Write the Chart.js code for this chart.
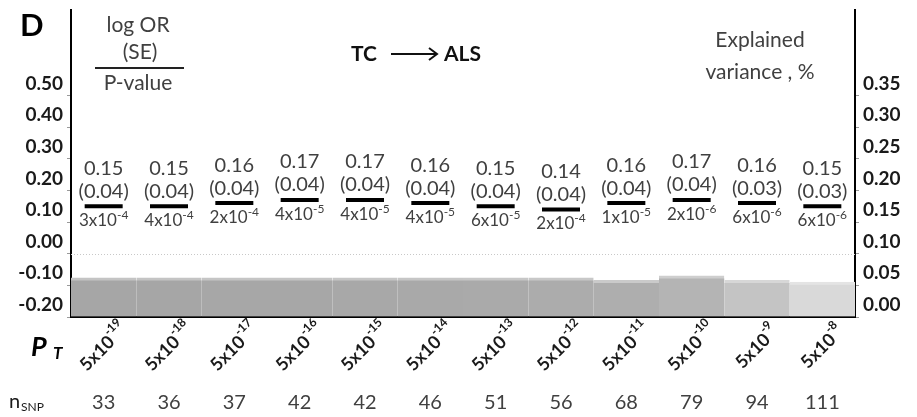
<!DOCTYPE html>
<html>
<head>
<meta charset="utf-8">
<script src="https://cdn.jsdelivr.net/npm/chart.js@4/dist/chart.umd.min.js"></script>
<style>
  html, body { margin: 0; padding: 0; background: #fff; }
  #wrap { width: 917px; height: 417px; }
</style>
</head>
<body>
<div id="wrap"><canvas id="c" width="917" height="417"></canvas></div>
<script>
// P-value thresholds (5x10^exp) used to select SNPs
const thresholdExponents = ['-19', '-18', '-17', '-16', '-15', '-14', '-13', '-12', '-11', '-10', '-9', '-8'];
// number of SNPs at each threshold
const nSnp = [33, 36, 37, 42, 42, 46, 51, 56, 68, 79, 94, 111];
// log odds ratio and its standard error
const logOR = [0.15, 0.15, 0.16, 0.17, 0.17, 0.16, 0.15, 0.14, 0.16, 0.17, 0.16, 0.15];
const logOrSE = [0.04, 0.04, 0.04, 0.04, 0.04, 0.04, 0.04, 0.04, 0.04, 0.04, 0.03, 0.03];
// association P-value as mantissa x 10^exponent
const pMantissa = [3, 4, 2, 4, 4, 4, 6, 2, 1, 2, 6, 6];
const pExponent = ['-4', '-4', '-4', '-5', '-5', '-5', '-5', '-4', '-5', '-6', '-6', '-6'];
// explained variance (%)
const explainedVariance = [0.062, 0.062, 0.062, 0.062, 0.062, 0.062, 0.062, 0.062, 0.058, 0.065, 0.058, 0.055];
// axis tick values
const leftTicks = [-0.2, -0.1, 0.0, 0.1, 0.2, 0.3, 0.4, 0.5];
const rightTicks = [0.0, 0.05, 0.10, 0.15, 0.20, 0.25, 0.30, 0.35];

const barColors = ['#a6a6a6', '#a6a6a6', '#a7a7a7', '#a7a7a7', '#a8a8a8', '#a9a9a9', '#aaaaaa', '#acacac',
                   '#aeaeae', '#b4b4b4', '#c4c4c4', '#d9d9d9'];
const barEdgeColors = ['#c4c4c4', '#c4c4c4', '#c5c5c5', '#c5c5c5', '#c6c6c6', '#c6c6c6', '#c7c7c7', '#c8c8c8',
                       '#cacaca', '#cecece', '#d7d7d7', '#e4e4e4'];

const FONT = 'Lato';
const TEXT = '#404040';

function textWithSup(ctx, base, sup, x, y, baseFont, supFont, align, supRise) {
  ctx.font = baseFont;
  const wb = ctx.measureText(base).width;
  ctx.font = supFont;
  const ws = ctx.measureText(sup).width;
  const total = wb + ws;
  let x0 = x;
  if (align === 'center') x0 = x - total / 2;
  ctx.textAlign = 'left';
  ctx.font = baseFont;
  ctx.fillText(base, x0, y);
  ctx.font = supFont;
  ctx.fillText(sup, x0 + wb, y - supRise);
}

const annotations = {
  id: 'annotations',
  beforeDatasetsDraw(chart) {
    // dotted reference line at log OR = 0
    const {ctx, chartArea, scales} = chart;
    const y0 = Math.round(scales.y.getPixelForValue(0)) + 0.5;
    ctx.save();
    ctx.strokeStyle = '#c8c8c8';
    ctx.lineWidth = 1;
    ctx.setLineDash([1, 2]);
    ctx.beginPath();
    ctx.moveTo(chartArea.left, y0);
    ctx.lineTo(chartArea.right, y0);
    ctx.stroke();
    ctx.restore();
  },
  afterDatasetsDraw(chart) {
    const {ctx} = chart;
    const meta = chart.getDatasetMeta(0);
    ctx.save();
    ctx.fillStyle = TEXT;
    ctx.textBaseline = 'middle';
    meta.data.forEach((pt, i) => {
      const x = pt.x, y = pt.y;
      ctx.textAlign = 'center';
      ctx.font = '20px ' + FONT;
      ctx.fillText(logOR[i].toFixed(2), x, y - 38);
      ctx.fillText('(' + logOrSE[i].toFixed(2) + ')', x, y - 15);
      ctx.textBaseline = 'alphabetic';
      textWithSup(ctx, pMantissa[i] + 'x10', pExponent[i], x, y + 20,
        '17px ' + FONT, '12px ' + FONT, 'center', 7);
      ctx.textBaseline = 'middle';
    });
    ctx.restore();
  },
  afterDraw(chart) {
    const {ctx, scales} = chart;
    const xs = scales.x;
    ctx.save();

    // threshold labels, rotated
    thresholdExponents.forEach((e, i) => {
      const x = xs.getPixelForValue(i);
      ctx.save();
      ctx.fillStyle = '#1a1a1a';
      ctx.translate(x, 347);
      ctx.rotate(-Math.PI / 4);
      ctx.textBaseline = 'middle';
      textWithSup(ctx, '5x10', e, 0, 0, 'bold 18px ' + FONT, 'bold 12px ' + FONT, 'center', 8);
      ctx.restore();
      // SNP counts
      ctx.textAlign = 'center';
      ctx.textBaseline = 'middle';
      ctx.fillStyle = TEXT;
      ctx.font = '20px ' + FONT;
      ctx.fillText(String(nSnp[i]), x, 403);
    });

    // row titles
    ctx.fillStyle = '#000';
    ctx.textAlign = 'left';
    ctx.textBaseline = 'alphabetic';
    ctx.font = 'italic bold 27px ' + FONT;
    ctx.fillText('P', 31, 356);
    ctx.font = 'italic bold 17px ' + FONT;
    ctx.fillText('T', 53, 359);
    ctx.fillStyle = '#1a1a1a';
    ctx.font = '20px ' + FONT;
    ctx.fillText('n', 9, 408);
    ctx.font = '12px ' + FONT;
    ctx.fillText('SNP', 21, 411);

    // panel letter
    ctx.fillStyle = '#000';
    ctx.font = 'bold 31px ' + FONT;
    ctx.fillText('D', 20, 36);

    // key for the value blocks
    ctx.fillStyle = TEXT;
    ctx.textAlign = 'center';
    ctx.textBaseline = 'middle';
    ctx.font = '21px ' + FONT;
    ctx.fillText('log OR', 138, 25);
    ctx.fillText('(SE)', 140, 52);
    ctx.fillText('P-value', 138, 83);
    ctx.fillStyle = '#222';
    ctx.fillRect(95, 67, 89, 2);

    // right axis caption
    ctx.fillStyle = TEXT;
    ctx.fillText('Explained', 760, 40);
    ctx.fillText('variance , %', 760, 72);

    // title with arrow
    ctx.fillStyle = '#111';
    ctx.font = 'bold 21px ' + FONT;
    ctx.textAlign = 'left';
    ctx.fillText('TC', 351, 54);
    ctx.fillText('ALS', 444, 54);
    ctx.strokeStyle = '#111';
    ctx.lineWidth = 2;
    ctx.beginPath();
    ctx.moveTo(391, 54);
    ctx.lineTo(436, 54);
    ctx.stroke();
    ctx.beginPath();
    ctx.moveTo(429, 48);
    ctx.lineTo(437, 54);
    ctx.lineTo(429, 60);
    ctx.stroke();

    ctx.restore();
  }
};

const tickFont = {family: FONT, weight: 'bold', size: 19};

function noPad(s) {
  s.paddingTop = 0;
  s.paddingBottom = 0;
  s.paddingLeft = 0;
  s.paddingRight = 0;
}

new Chart(document.getElementById('c'), {
  type: 'bar',
  data: {
    labels: thresholdExponents.map(e => '5x10^' + e),
    datasets: [
      {
        type: 'line',
        label: 'log OR',
        data: logOR,
        yAxisID: 'y',
        showLine: false,
        pointStyle: 'line',
        pointRadius: 19,
        pointHoverRadius: 19,
        pointBorderWidth: 4,
        pointBorderColor: '#000',
        pointBackgroundColor: '#000',
        clip: false,
        order: 0
      },
      {
        type: 'bar',
        label: 'Explained variance',
        data: explainedVariance,
        yAxisID: 'y1',
        backgroundColor: barColors,
        borderColor: barEdgeColors,
        borderWidth: {top: 3, left: 0, right: 0, bottom: 0},
        borderSkipped: 'bottom',
        categoryPercentage: 1,
        barPercentage: 1,
        order: 1
      }
    ]
  },
  options: {
    responsive: false,
    maintainAspectRatio: false,
    animation: false,
    devicePixelRatio: 1,
    layout: {autoPadding: false, padding: {top: 10, left: 0, right: 0, bottom: 0}},
    plugins: {legend: {display: false}, tooltip: {enabled: false}},
    scales: {
      x: {
        ticks: {display: false},
        grid: {display: false, drawTicks: false},
        border: {display: true, color: '#000', width: 2},
        afterFit(s) { s.height = 100; noPad(s); }
      },
      y: {
        position: 'left',
        min: -0.2,
        max: 0.77,
        afterBuildTicks(s) { s.ticks = leftTicks.map(v => ({value: v})); },
        ticks: {
          callback: v => Number(v).toFixed(2),
          labelOffset: -12,
          font: tickFont,
          color: '#1a1a1a',
          padding: 4
        },
        grid: {drawOnChartArea: false, tickLength: 4, tickColor: '#999', tickWidth: 1},
        border: {color: '#000', width: 2},
        afterFit(s) { s.width = 71; noPad(s); }
      },
      y1: {
        position: 'right',
        min: 0,
        max: 0.485,
        afterBuildTicks(s) { s.ticks = rightTicks.map(v => ({value: v})); },
        ticks: {
          callback: v => Number(v).toFixed(2),
          labelOffset: -12,
          font: tickFont,
          color: '#1a1a1a',
          padding: 4
        },
        grid: {drawOnChartArea: false, tickLength: 4, tickColor: '#999', tickWidth: 1},
        border: {color: '#000', width: 2},
        afterFit(s) { s.width = 62; noPad(s); }
      }
    }
  },
  plugins: [annotations]
});
</script>
</body>
</html>
